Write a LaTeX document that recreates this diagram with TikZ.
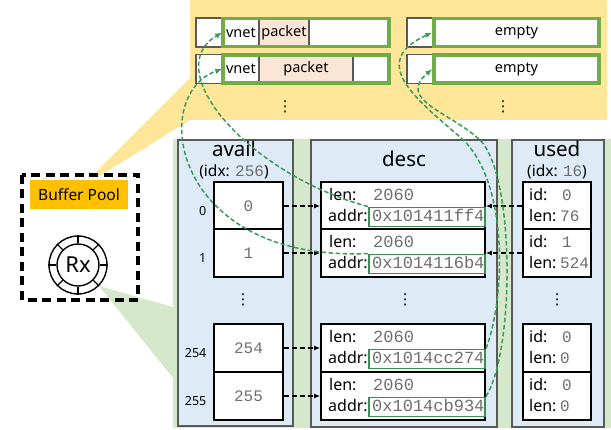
\documentclass[tikz,border=0pt]{standalone}
\usepackage{fontspec}
\setmainfont{Noto Sans}
\newfontfamily\monofont{Liberation Mono}
\newfontfamily\symfont{DejaVu Sans}
\usepackage{tikz}
\usetikzlibrary{positioning, arrows.meta}
\usepackage{xcolor}
\definecolor{poolyellow}{HTML}{FFE699}
\definecolor{poolorange}{HTML}{FFC000}
\definecolor{ringgreen}{HTML}{D5E8CC}
\definecolor{colblue}{HTML}{DEEBF7}
\definecolor{colborder}{HTML}{595959}
\definecolor{bufgreen}{HTML}{70AD47}
\definecolor{addrgreen}{HTML}{3C8D50}
\definecolor{linkgreen}{HTML}{3A9A5A}
\definecolor{pktpeach}{HTML}{FBE5D6}
\definecolor{numgray}{HTML}{6E6E6E}
\newcommand{\mono}[2][17]{{\monofont\fontsize{#1}{#1}\selectfont\color{numgray}#2}}

\begin{document}
\begin{tikzpicture}[x=1pt, y=-1pt,
    slot/.style={draw=black, line width=1.7pt, fill=white, inner sep=0pt},
    addrbox/.style={draw=addrgreen, line width=1.9pt, inner sep=0pt, minimum width=116pt, minimum height=19pt},
    cell/.style={draw=colborder, line width=1.5pt, fill=white, inner sep=0pt, minimum height=29pt},
    buf/.style={draw=bufgreen, line width=3.4pt, inner sep=0pt, minimum height=28pt},
    lbl/.style={font=\fontsize{16}{16}\selectfont, inner sep=0pt},
    toplbl/.style={font=\fontsize{14.5}{15}\selectfont, inner sep=0pt},
    dots/.style={font=\symfont\fontsize{15}{15}\selectfont, inner sep=0pt},
    ptr/.style={dash pattern=on 5pt off 3pt, line width=1.5pt, -{Latex[length=6pt,width=5pt]}},
    link/.style={draw=linkgreen, dash pattern=on 4.5pt off 2.5pt, line width=1.5pt, -{Latex[length=7pt,width=5.5pt]}}]
    \useasboundingbox (0,0) rectangle (611,430);

    % zoom areas
    \fill[poolyellow] (190,0) -- (607,0) -- (607,120) -- (190,120) -- (98,177) -- (91,177) -- (190,78) -- cycle;
    \fill[ringgreen] (173,139) rectangle (611,428);
    \fill[ringgreen] (99,286) -- (173,307) -- (173,378) -- cycle;

    % columns
    \draw[draw=colborder, line width=1.5pt, fill=colblue] (178,140) rectangle (293,426);
    \draw[draw=colborder, line width=1.5pt, fill=colblue] (311,140) rectangle (497,427);
    \draw[draw=colborder, line width=1.5pt, fill=colblue] (512,140) rectangle (604,427);
    \node[font=\fontsize{20.5}{21}\selectfont, anchor=base] (availtitle) at (234,157) {avail};
    \node[font=\fontsize{15.5}{16}\selectfont, anchor=base] (availidx) at (234,177) {(idx: \mono[16]{256})};
    \node[font=\fontsize{20.5}{21}\selectfont, anchor=base] (desctitle) at (404,167) {desc};
    \node[font=\fontsize{20.5}{21}\selectfont, anchor=base] (usedtitle) at (557,157) {used};
    \node[font=\fontsize{15.5}{16}\selectfont, anchor=base] (usedidx) at (557,177) {(idx: \mono[16]{16})};

    % avail ring
    \foreach \k/\y in {0/206, 1/253, 254/348, 255/396} {
        \node[slot, minimum width=69pt, minimum height=47.5pt] (a\k) at (248.5,\y) {\mono[16]{\k}};
        \node[font=\fontsize{12.5}{13}\selectfont, anchor=east, inner sep=0pt] (ai\k) at (206.5,\y+5) {\k};
    }

    % descriptor table
    \foreach \k/\y/\ad in {0/206/0x101411ff4, 1/253/0x1014116b4, 254/348/0x1014cc274, 255/396/0x1014cb934} {
        \node[slot, minimum width=164pt, minimum height=47.5pt] (d\k) at (403,\y) {};
        \node[lbl, anchor=base west] (dl\k) at (329,\y-5.5) {len:};
        \node[lbl, anchor=base west] (dn\k) at (373,\y-5.5) {\mono{2060}};
        \node[lbl, anchor=base west] (dq\k) at (328,\y+15.5) {addr:};
        \node[addrbox] (x\k) at (427,\y+11) {};
        \node[lbl, anchor=base west] (dv\k) at (372,\y+15.5) {\mono{\ad}};
    }

    % used ring
    \foreach \k/\y/\i/\l in {0/206/0/76, 1/253/1/524, 254/348/0/0, 255/396/0/0} {
        \node[slot, minimum width=68pt, minimum height=47.5pt] (u\k) at (557,\y) {};
        \node[lbl, anchor=base west] (ul\k) at (529,\y-5.5) {id:};
        \node[lbl, anchor=base west] (un\k) at (562,\y-5.5) {\mono[16]{\i}};
        \node[lbl, anchor=base west] (um\k) at (529,\y+15.5) {len:};
        \node[lbl, anchor=base west] (uv\k) at (560,\y+15.5) {\mono[16]{\l}};
    }

    \node[dots] (availdots) at (243,300) {⋮};
    \node[dots] (descdots) at (405,300) {⋮};
    \node[dots] (useddots) at (557,300) {⋮};

    % buffers
    \foreach \r/\y/\pw/\px in {1/32.5/50/284, 2/69/94/306} {
        \node[cell, minimum width=193pt] (o\r) at (292.5,\y) {};
        \node[cell, toplbl, minimum width=36pt, minimum height=29pt] (v\r) at (241,\y) {vnet};
        \node[cell, toplbl, fill=pktpeach, minimum width=\pw pt, minimum height=29pt] (p\r) at (\px,\y) {packet};
        \node[buf, minimum width=166pt] (g\r) at (306,\y) {};
        \node[cell, minimum width=192pt] (q\r) at (503,\y) {};
        \node[buf, toplbl, fill=white, minimum width=165pt] (e\r) at (516.5,\y) {empty};
    }
    \node[dots] (bufdots) at (285,107) {⋮};
    \node[dots] (emptydots) at (503,107) {⋮};

    % buffer pool and Rx ring
    \draw[line width=3.4pt, dash pattern=on 9pt off 5.5pt] (22,175) rectangle (138,300);
    \node[lbl, font=\fontsize{15.5}{16}\selectfont, fill=poolorange, minimum width=98pt, minimum height=29pt] (pool) at (79,194.5) {Buffer Pool};
    \node[circle, draw, line width=1.4pt, fill=white, minimum size=58pt] (ring) at (78,265) {};
    \node[circle, draw, line width=1.4pt, minimum size=42pt, inner sep=0pt, font=\fontsize{22}{22}\selectfont] (rx) at (78,265) {Rx};
    \foreach \a in {0,45,...,315} {
        \draw[line width=1.2pt] (ring.\a) -- (rx.\a);
    }

    % index pointers
    \foreach \k in {0,1,254,255} {
        \draw[ptr] (a\k) -- (d\k);
    }
    \foreach \k in {0,1} {
        \draw[ptr] (u\k) -- (d\k);
    }

    % addresses to buffers
    \coordinate (bendc) at (460,137);
    \coordinate (bendd) at (480,140);
    \draw[link] (x0.north west) .. controls (250,175) and (158,70) .. (v1.west);
    \draw[link] (x1.north west) .. controls (172,262) and (148,95) .. (v2.west);
    \draw[link] (x254.north east) .. controls (505,300) and (510,180) .. (bendc) .. controls (415,98) and (368,62) .. (e1.west);
    \draw[link] (x255.north east) .. controls (515,350) and (515,175) .. (bendd) .. controls (450,112) and (396,100) .. (e2.west);
\end{tikzpicture}
\end{document}
